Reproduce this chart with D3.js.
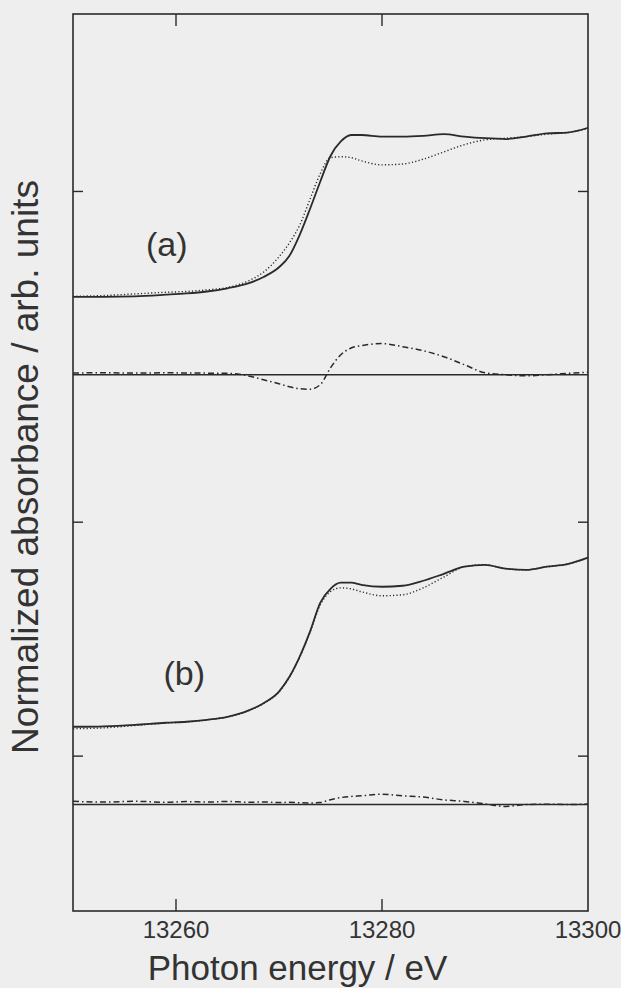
<!DOCTYPE html>
<html>
<head>
<meta charset="utf-8">
<script src="https://cdn.jsdelivr.net/npm/d3@7"></script>
<style>
  html, body { margin: 0; padding: 0; background: #eeeeee; }
  #container { width: 621px; height: 988px; }
</style>
</head>
<body>
<div id="container"></div>
<script>
// photon energy grid (eV)
const energy = [13250, 13253, 13256, 13259, 13261, 13263, 13265, 13267, 13268.5, 13270,
    13271, 13272, 13273, 13274, 13275, 13276, 13277, 13278, 13280, 13282,
    13284, 13286, 13288, 13290, 13292, 13294, 13296, 13298, 13300];

// (a) spectra, offset on the plot
const aSolid = [3.147, 3.147, 3.150, 3.160, 3.168, 3.180, 3.200, 3.230, 3.270, 3.330,
    3.400, 3.530, 3.690, 3.860, 4.020, 4.110, 4.150, 4.150, 4.140, 4.140,
    4.145, 4.155, 4.140, 4.130, 4.125, 4.140, 4.160, 4.165, 4.195];
const aDotted = [3.150, 3.155, 3.165, 3.175, 3.180, 3.190, 3.205, 3.245, 3.300, 3.395,
    3.480, 3.590, 3.750, 3.910, 4.010, 4.015, 4.010, 3.990, 3.965, 3.970,
    4.000, 4.045, 4.090, 4.120, 4.130, 4.140, 4.155, 4.165, 4.190];
const aDiff = [2.675, 2.676, 2.674, 2.676, 2.675, 2.674, 2.673, 2.657, 2.633, 2.608,
    2.590, 2.577, 2.574, 2.602, 2.707, 2.788, 2.830, 2.844, 2.857, 2.838,
    2.813, 2.776, 2.726, 2.676, 2.664, 2.657, 2.664, 2.672, 2.680];
const aZero = 2.664;

// (b) spectra
const bSolid = [0.482, 0.485, 0.494, 0.507, 0.513, 0.525, 0.544, 0.582, 0.628, 0.700,
    0.790, 0.915, 1.070, 1.250, 1.337, 1.375, 1.375, 1.362, 1.350, 1.356,
    1.387, 1.430, 1.474, 1.486, 1.462, 1.455, 1.474, 1.490, 1.530];
const bDotted = [0.470, 0.475, 0.490, 0.505, 0.512, 0.524, 0.543, 0.580, 0.626, 0.698,
    0.788, 0.912, 1.065, 1.236, 1.320, 1.343, 1.337, 1.319, 1.294, 1.300,
    1.343, 1.410, 1.474, 1.486, 1.462, 1.455, 1.474, 1.490, 1.530];
const bDiff = [0.020, 0.015, 0.020, 0.014, 0.018, 0.015, 0.019, 0.014, 0.016, 0.012,
    0.014, 0.011, 0.010, 0.012, 0.030, 0.043, 0.050, 0.054, 0.064, 0.054,
    0.046, 0.029, 0.019, 0.004, -0.012, 0.000, 0.002, 0.000, 0.003];
const bZero = 0;

const xTicks = [13260, 13280, 13300];
const yTicks = [0.30, 1.75, 3.80];
const panelLabels = [{ text: '(a)', x: 13259.1, y: 3.40 }, { text: '(b)', x: 13260.8, y: 0.74 }];

const width = 621, height = 988;
const margin = { top: 14, right: 33, bottom: 77, left: 73 };

const svg = d3.select('#container')
    .append('svg')
    .attr('width', width)
    .attr('height', height)
    .style('background', '#eeeeee')
    .attr('font-family', 'Liberation Sans, Arial, sans-serif');

const x = d3.scaleLinear()
    .domain([13250, 13300])
    .range([margin.left, width - margin.right]);

const y = d3.scaleLinear()
    .domain([-0.66, 4.90])
    .range([height - margin.bottom, margin.top]);

const ink = '#2a2a2a';

// zero lines
[aZero, bZero].forEach(z => {
    svg.append('line')
        .attr('x1', x(13250)).attr('x2', x(13300))
        .attr('y1', y(z)).attr('y2', y(z))
        .attr('stroke', ink).attr('stroke-width', 1.6);
});

const line = vals => d3.line()
    .x((d, i) => x(energy[i]))
    .y(d => y(d))
    .curve(d3.curveMonotoneX)(vals);

const series = [
    { vals: aSolid, dash: null, w: 1.8 },
    { vals: aDotted, dash: '1.2,2.2', w: 1.4 },
    { vals: aDiff, dash: '6,3,1.5,3', w: 1.5 },
    { vals: bSolid, dash: null, w: 1.8 },
    { vals: bDotted, dash: '1.2,2.2', w: 1.4 },
    { vals: bDiff, dash: '6,3,1.5,3', w: 1.5 }
];

svg.selectAll('.series').data(series)
    .enter()
    .append('path')
    .attr('class', 'series')
    .attr('d', d => line(d.vals))
    .attr('fill', 'none')
    .attr('stroke', ink)
    .attr('stroke-width', d => d.w)
    .attr('stroke-dasharray', d => d.dash);

// frame
svg.append('rect')
    .attr('x', x(13250)).attr('y', y(4.90))
    .attr('width', x(13300) - x(13250))
    .attr('height', y(-0.66) - y(4.90))
    .attr('fill', 'none')
    .attr('stroke', ink)
    .attr('stroke-width', 1.6);

// inward ticks
const xt = xTicks.filter(t => t < 13300);
svg.selectAll('.xtickB').data(xt).enter().append('line')
    .attr('x1', d => x(d)).attr('x2', d => x(d))
    .attr('y1', y(-0.66)).attr('y2', y(-0.66) - 12)
    .attr('stroke', ink).attr('stroke-width', 1.4);
svg.selectAll('.xtickT').data(xt).enter().append('line')
    .attr('x1', d => x(d)).attr('x2', d => x(d))
    .attr('y1', y(4.90)).attr('y2', y(4.90) + 12)
    .attr('stroke', ink).attr('stroke-width', 1.4);
svg.selectAll('.ytickL').data(yTicks).enter().append('line')
    .attr('x1', x(13250)).attr('x2', x(13250) + 10)
    .attr('y1', d => y(d)).attr('y2', d => y(d))
    .attr('stroke', ink).attr('stroke-width', 1.4);
svg.selectAll('.ytickR').data(yTicks).enter().append('line')
    .attr('x1', x(13300)).attr('x2', x(13300) - 10)
    .attr('y1', d => y(d)).attr('y2', d => y(d))
    .attr('stroke', ink).attr('stroke-width', 1.4);

// tick labels
svg.selectAll('.xlabel').data(xTicks).enter().append('text')
    .attr('x', d => x(d))
    .attr('y', 938)
    .attr('text-anchor', 'middle')
    .attr('font-size', 24)
    .attr('fill', '#333')
    .text(d => d);

// axis titles
svg.append('text')
    .attr('x', (x(13250) + x(13300)) / 2 - 33)
    .attr('y', 980)
    .attr('text-anchor', 'middle')
    .attr('font-size', 35)
    .attr('fill', '#333')
    .text('Photon energy / eV');

svg.append('text')
    .attr('transform', 'translate(38,467) rotate(-90)')
    .attr('text-anchor', 'middle')
    .attr('font-size', 37)
    .attr('fill', '#333')
    .text('Normalized absorbance / arb. units');

// panel labels
svg.selectAll('.panel').data(panelLabels).enter().append('text')
    .attr('x', d => x(d.x))
    .attr('y', d => y(d.y))
    .attr('text-anchor', 'middle')
    .attr('font-size', 34)
    .attr('fill', '#333')
    .text(d => d.text);
</script>
</body>
</html>
